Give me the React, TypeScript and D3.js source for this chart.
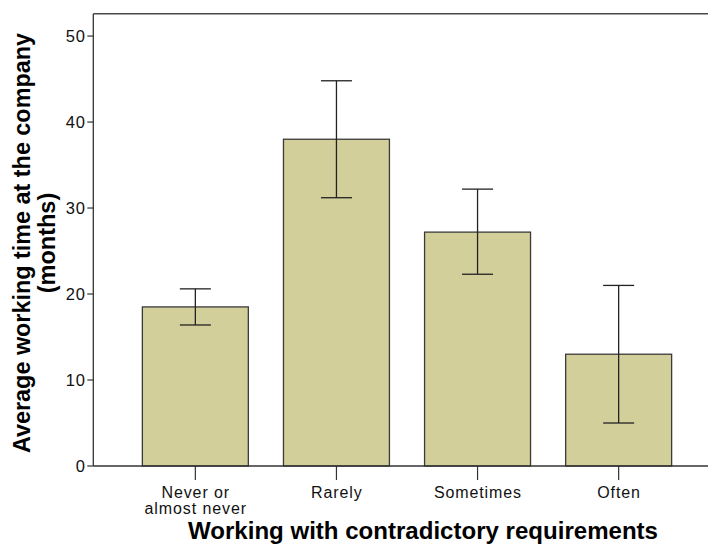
import React from "react";
import * as d3 from "d3";

const categories: string[][] = [["Never or", "almost never"], ["Rarely"], ["Sometimes"], ["Often"]];
const means: number[] = [18.5, 38.0, 27.2, 13.0];
const lowerCI: number[] = [16.4, 31.2, 22.3, 5.0];
const upperCI: number[] = [20.6, 44.8, 32.2, 21.0];
const yTicks: number[] = [0, 10, 20, 30, 40, 50];
const yTitleLines: string[] = ["Average working time at the company", "(months)"];
const xTitle = "Working with contradictory requirements";

const W = 710;
const H = 544;
const plotLeft = 93.3;
const plotRight = 708;
const plotTop = 13.7;
const plotBottom = 466;
const font = "'Liberation Sans', Arial, Helvetica, sans-serif";

export default function App() {
  const y = d3.scaleLinear().domain([0, 52.6]).range([plotBottom, plotTop]);
  const keys = categories.map((_, i) => String(i));
  const x = d3
    .scaleBand<string>()
    .domain(keys)
    .range([124.8, 689.2])
    .paddingInner(0.249)
    .paddingOuter(0.1245);
  const bw = x.bandwidth();
  const capHalf = 15.5;
  const yCenter = 243;

  return (
    <svg
      width={W}
      height={H}
      viewBox={`0 0 ${W} ${H}`}
      style={{ position: "absolute", left: 0, top: 0, background: "#fff" }}
    >
      <rect x={0} y={0} width={W} height={H} fill="#fff" />
      {/* bars */}
      {means.map((m, i) => (
        <rect
          key={"b" + i}
          x={x(keys[i])!}
          y={y(m)}
          width={bw}
          height={y(0) - y(m)}
          fill="#d3cf9a"
          stroke="#3a3a3a"
          strokeWidth={1.3}
        />
      ))}
      {/* error bars */}
      {means.map((_, i) => {
        const cx = x(keys[i])! + bw / 2;
        return (
          <g key={"e" + i} stroke="#222" strokeWidth={1.3}>
            <line x1={cx} x2={cx} y1={y(upperCI[i])} y2={y(lowerCI[i])} />
            <line x1={cx - capHalf} x2={cx + capHalf} y1={y(upperCI[i])} y2={y(upperCI[i])} />
            <line x1={cx - capHalf} x2={cx + capHalf} y1={y(lowerCI[i])} y2={y(lowerCI[i])} />
          </g>
        );
      })}
      {/* frame */}
      <line x1={plotLeft} x2={plotRight} y1={plotTop} y2={plotTop} stroke="#4a4a4a" strokeWidth={1.5} />
      <line x1={plotLeft} x2={plotLeft} y1={plotTop} y2={plotBottom} stroke="#333" strokeWidth={1.3} />
      <line x1={plotLeft} x2={plotRight} y1={plotBottom} y2={plotBottom} stroke="#333" strokeWidth={1.5} />
      {/* y ticks */}
      {yTicks.map((t) => (
        <g key={"yt" + t}>
          <line x1={plotLeft - 6} x2={plotLeft} y1={y(t)} y2={y(t)} stroke="#333" strokeWidth={1.2} />
          <text
            x={86}
            y={y(t)}
            dy="0.36em"
            textAnchor="end"
            fontFamily={font}
            fontSize={16.5}
            letterSpacing={1}
            fill="#111"
          >
            {t}
          </text>
        </g>
      ))}
      {/* x ticks */}
      {categories.map((lines, i) => {
        const cx = x(keys[i])! + bw / 2;
        return (
          <g key={"xt" + i}>
            <line x1={cx} x2={cx} y1={plotBottom} y2={plotBottom + 14} stroke="#333" strokeWidth={1.2} />
            {lines.map((ln, j) => (
              <text
                key={j}
                x={cx + 0.4}
                y={497.5 + j * 16}
                textAnchor="middle"
                fontFamily={font}
                fontSize={16}
                letterSpacing={0.9}
                fill="#111"
              >
                {ln}
              </text>
            ))}
          </g>
        );
      })}
      {/* y title */}
      <text
        transform={`translate(30, ${yCenter}) rotate(-90)`}
        textAnchor="middle"
        fontFamily={font}
        fontWeight="bold"
        fontSize={23.5}
        textLength={420}
        lengthAdjust="spacingAndGlyphs"
        fill="#000"
      >
        {yTitleLines[0]}
      </text>
      <text
        transform={`translate(55, ${yCenter}) rotate(-90)`}
        textAnchor="middle"
        fontFamily={font}
        fontWeight="bold"
        fontSize={23.5}
        fill="#000"
      >
        {yTitleLines[1]}
      </text>
      {/* x title */}
      <text
        x={423}
        y={539}
        textAnchor="middle"
        fontFamily={font}
        fontWeight="bold"
        fontSize={23.5}
        textLength={470}
        lengthAdjust="spacingAndGlyphs"
        fill="#000"
      >
        {xTitle}
      </text>
    </svg>
  );
}
